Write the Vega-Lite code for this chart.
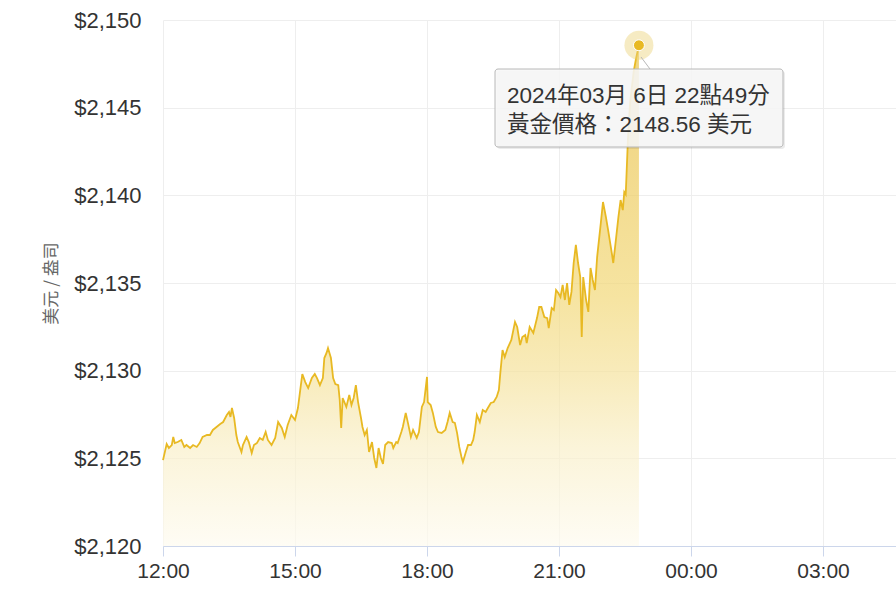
{
  "$schema": "https://vega.github.io/schema/vega-lite/v6.json",
  "width": 733,
  "height": 526,
  "autosize": {"type": "none"},
  "padding": {"left": 163, "top": 20, "right": 0, "bottom": 52},
  "background": "white",
  "config": {"view": {"stroke": null}, "font": "Liberation Sans, Noto Sans CJK TC"},
  "datasets": {
    "price": [
      {"t": "2024-03-06T12:00", "v": 2124.90},
      {"t": "2024-03-06T12:05", "v": 2125.82},
      {"t": "2024-03-06T12:08", "v": 2125.59},
      {"t": "2024-03-06T12:12", "v": 2125.76},
      {"t": "2024-03-06T12:14", "v": 2126.22},
      {"t": "2024-03-06T12:16", "v": 2125.87},
      {"t": "2024-03-06T12:20", "v": 2125.93},
      {"t": "2024-03-06T12:25", "v": 2126.05},
      {"t": "2024-03-06T12:29", "v": 2125.65},
      {"t": "2024-03-06T12:32", "v": 2125.76},
      {"t": "2024-03-06T12:37", "v": 2125.59},
      {"t": "2024-03-06T12:41", "v": 2125.76},
      {"t": "2024-03-06T12:46", "v": 2125.65},
      {"t": "2024-03-06T12:50", "v": 2125.87},
      {"t": "2024-03-06T12:54", "v": 2126.22},
      {"t": "2024-03-06T13:00", "v": 2126.33},
      {"t": "2024-03-06T13:04", "v": 2126.33},
      {"t": "2024-03-06T13:08", "v": 2126.62},
      {"t": "2024-03-06T13:13", "v": 2126.79},
      {"t": "2024-03-06T13:18", "v": 2126.96},
      {"t": "2024-03-06T13:22", "v": 2127.07},
      {"t": "2024-03-06T13:27", "v": 2127.47},
      {"t": "2024-03-06T13:30", "v": 2127.64},
      {"t": "2024-03-06T13:32", "v": 2127.36},
      {"t": "2024-03-06T13:34", "v": 2127.87},
      {"t": "2024-03-06T13:37", "v": 2127.30},
      {"t": "2024-03-06T13:40", "v": 2126.33},
      {"t": "2024-03-06T13:42", "v": 2125.93},
      {"t": "2024-03-06T13:47", "v": 2125.36},
      {"t": "2024-03-06T13:49", "v": 2125.76},
      {"t": "2024-03-06T13:54", "v": 2126.22},
      {"t": "2024-03-06T13:57", "v": 2125.93},
      {"t": "2024-03-06T14:01", "v": 2125.30},
      {"t": "2024-03-06T14:04", "v": 2125.76},
      {"t": "2024-03-06T14:08", "v": 2125.87},
      {"t": "2024-03-06T14:12", "v": 2126.16},
      {"t": "2024-03-06T14:16", "v": 2126.05},
      {"t": "2024-03-06T14:20", "v": 2126.50},
      {"t": "2024-03-06T14:23", "v": 2126.05},
      {"t": "2024-03-06T14:28", "v": 2125.76},
      {"t": "2024-03-06T14:33", "v": 2126.16},
      {"t": "2024-03-06T14:37", "v": 2127.07},
      {"t": "2024-03-06T14:42", "v": 2126.73},
      {"t": "2024-03-06T14:46", "v": 2126.22},
      {"t": "2024-03-06T14:50", "v": 2126.90},
      {"t": "2024-03-06T14:55", "v": 2127.47},
      {"t": "2024-03-06T15:00", "v": 2127.19},
      {"t": "2024-03-06T15:04", "v": 2127.87},
      {"t": "2024-03-06T15:08", "v": 2129.18},
      {"t": "2024-03-06T15:10", "v": 2129.81},
      {"t": "2024-03-06T15:14", "v": 2129.35},
      {"t": "2024-03-06T15:18", "v": 2129.01},
      {"t": "2024-03-06T15:23", "v": 2129.58},
      {"t": "2024-03-06T15:27", "v": 2129.81},
      {"t": "2024-03-06T15:30", "v": 2129.58},
      {"t": "2024-03-06T15:34", "v": 2129.18},
      {"t": "2024-03-06T15:38", "v": 2129.58},
      {"t": "2024-03-06T15:40", "v": 2130.72},
      {"t": "2024-03-06T15:43", "v": 2131.01},
      {"t": "2024-03-06T15:45", "v": 2131.29},
      {"t": "2024-03-06T15:49", "v": 2130.72},
      {"t": "2024-03-06T15:52", "v": 2129.58},
      {"t": "2024-03-06T15:55", "v": 2129.24},
      {"t": "2024-03-06T15:59", "v": 2129.18},
      {"t": "2024-03-06T16:01", "v": 2128.33},
      {"t": "2024-03-06T16:03", "v": 2126.73},
      {"t": "2024-03-06T16:05", "v": 2128.44},
      {"t": "2024-03-06T16:10", "v": 2127.93},
      {"t": "2024-03-06T16:14", "v": 2128.61},
      {"t": "2024-03-06T16:17", "v": 2128.04},
      {"t": "2024-03-06T16:20", "v": 2128.44},
      {"t": "2024-03-06T16:23", "v": 2129.18},
      {"t": "2024-03-06T16:26", "v": 2128.21},
      {"t": "2024-03-06T16:30", "v": 2127.30},
      {"t": "2024-03-06T16:32", "v": 2126.79},
      {"t": "2024-03-06T16:35", "v": 2126.33},
      {"t": "2024-03-06T16:38", "v": 2126.62},
      {"t": "2024-03-06T16:41", "v": 2125.36},
      {"t": "2024-03-06T16:45", "v": 2125.93},
      {"t": "2024-03-06T16:48", "v": 2125.02},
      {"t": "2024-03-06T16:51", "v": 2124.45},
      {"t": "2024-03-06T16:54", "v": 2125.59},
      {"t": "2024-03-06T16:57", "v": 2125.02},
      {"t": "2024-03-06T17:00", "v": 2124.68},
      {"t": "2024-03-06T17:03", "v": 2125.76},
      {"t": "2024-03-06T17:07", "v": 2125.93},
      {"t": "2024-03-06T17:12", "v": 2125.87},
      {"t": "2024-03-06T17:14", "v": 2125.59},
      {"t": "2024-03-06T17:18", "v": 2125.93},
      {"t": "2024-03-06T17:20", "v": 2125.87},
      {"t": "2024-03-06T17:25", "v": 2126.50},
      {"t": "2024-03-06T17:27", "v": 2126.79},
      {"t": "2024-03-06T17:31", "v": 2127.59},
      {"t": "2024-03-06T17:34", "v": 2127.02},
      {"t": "2024-03-06T17:38", "v": 2126.22},
      {"t": "2024-03-06T17:41", "v": 2126.62},
      {"t": "2024-03-06T17:46", "v": 2126.16},
      {"t": "2024-03-06T17:49", "v": 2126.50},
      {"t": "2024-03-06T17:53", "v": 2127.93},
      {"t": "2024-03-06T17:56", "v": 2128.21},
      {"t": "2024-03-06T18:00", "v": 2129.64},
      {"t": "2024-03-06T18:01", "v": 2128.21},
      {"t": "2024-03-06T18:05", "v": 2128.04},
      {"t": "2024-03-06T18:08", "v": 2127.59},
      {"t": "2024-03-06T18:12", "v": 2126.79},
      {"t": "2024-03-06T18:15", "v": 2126.50},
      {"t": "2024-03-06T18:20", "v": 2126.45},
      {"t": "2024-03-06T18:25", "v": 2126.62},
      {"t": "2024-03-06T18:28", "v": 2127.07},
      {"t": "2024-03-06T18:31", "v": 2127.59},
      {"t": "2024-03-06T18:35", "v": 2127.07},
      {"t": "2024-03-06T18:38", "v": 2127.02},
      {"t": "2024-03-06T18:41", "v": 2126.45},
      {"t": "2024-03-06T18:44", "v": 2125.65},
      {"t": "2024-03-06T18:47", "v": 2125.08},
      {"t": "2024-03-06T18:49", "v": 2124.79},
      {"t": "2024-03-06T18:53", "v": 2125.36},
      {"t": "2024-03-06T18:56", "v": 2125.76},
      {"t": "2024-03-06T19:00", "v": 2125.76},
      {"t": "2024-03-06T19:03", "v": 2126.05},
      {"t": "2024-03-06T19:05", "v": 2126.50},
      {"t": "2024-03-06T19:08", "v": 2127.47},
      {"t": "2024-03-06T19:12", "v": 2127.07},
      {"t": "2024-03-06T19:16", "v": 2127.76},
      {"t": "2024-03-06T19:20", "v": 2127.64},
      {"t": "2024-03-06T19:23", "v": 2127.87},
      {"t": "2024-03-06T19:27", "v": 2128.16},
      {"t": "2024-03-06T19:31", "v": 2128.21},
      {"t": "2024-03-06T19:35", "v": 2128.50},
      {"t": "2024-03-06T19:38", "v": 2128.90},
      {"t": "2024-03-06T19:40", "v": 2129.87},
      {"t": "2024-03-06T19:43", "v": 2131.18},
      {"t": "2024-03-06T19:46", "v": 2130.78},
      {"t": "2024-03-06T19:50", "v": 2131.29},
      {"t": "2024-03-06T19:55", "v": 2131.75},
      {"t": "2024-03-06T20:00", "v": 2132.78},
      {"t": "2024-03-06T20:03", "v": 2132.49},
      {"t": "2024-03-06T20:07", "v": 2131.46},
      {"t": "2024-03-06T20:10", "v": 2131.92},
      {"t": "2024-03-06T20:14", "v": 2132.03},
      {"t": "2024-03-06T20:16", "v": 2131.58},
      {"t": "2024-03-06T20:20", "v": 2132.49},
      {"t": "2024-03-06T20:25", "v": 2132.15},
      {"t": "2024-03-06T20:30", "v": 2133.00},
      {"t": "2024-03-06T20:33", "v": 2133.63},
      {"t": "2024-03-06T20:36", "v": 2133.63},
      {"t": "2024-03-06T20:40", "v": 2133.06},
      {"t": "2024-03-06T20:44", "v": 2133.00},
      {"t": "2024-03-06T20:46", "v": 2132.43},
      {"t": "2024-03-06T20:50", "v": 2133.57},
      {"t": "2024-03-06T20:53", "v": 2133.46},
      {"t": "2024-03-06T20:56", "v": 2134.60},
      {"t": "2024-03-06T20:59", "v": 2134.43},
      {"t": "2024-03-06T21:02", "v": 2134.20},
      {"t": "2024-03-06T21:05", "v": 2134.89},
      {"t": "2024-03-06T21:08", "v": 2134.03},
      {"t": "2024-03-06T21:11", "v": 2135.00},
      {"t": "2024-03-06T21:14", "v": 2133.75},
      {"t": "2024-03-06T21:17", "v": 2134.49},
      {"t": "2024-03-06T21:20", "v": 2136.14},
      {"t": "2024-03-06T21:23", "v": 2137.17},
      {"t": "2024-03-06T21:26", "v": 2136.14},
      {"t": "2024-03-06T21:29", "v": 2135.34},
      {"t": "2024-03-06T21:31", "v": 2131.92},
      {"t": "2024-03-06T21:33", "v": 2135.34},
      {"t": "2024-03-06T21:37", "v": 2134.03},
      {"t": "2024-03-06T21:40", "v": 2133.35},
      {"t": "2024-03-06T21:43", "v": 2135.86},
      {"t": "2024-03-06T21:46", "v": 2135.17},
      {"t": "2024-03-06T21:49", "v": 2134.60},
      {"t": "2024-03-06T21:52", "v": 2136.48},
      {"t": "2024-03-06T21:57", "v": 2138.42},
      {"t": "2024-03-06T22:00", "v": 2139.62},
      {"t": "2024-03-06T22:04", "v": 2138.76},
      {"t": "2024-03-06T22:07", "v": 2138.02},
      {"t": "2024-03-06T22:12", "v": 2136.71},
      {"t": "2024-03-06T22:14", "v": 2136.14},
      {"t": "2024-03-06T22:18", "v": 2137.62},
      {"t": "2024-03-06T22:21", "v": 2138.76},
      {"t": "2024-03-06T22:24", "v": 2139.73},
      {"t": "2024-03-06T22:27", "v": 2139.16},
      {"t": "2024-03-06T22:29", "v": 2140.19},
      {"t": "2024-03-06T22:31", "v": 2140.05},
      {"t": "2024-03-06T22:34", "v": 2143.20},
      {"t": "2024-03-06T22:37", "v": 2145.30},
      {"t": "2024-03-06T22:40", "v": 2146.40},
      {"t": "2024-03-06T22:42", "v": 2147.10},
      {"t": "2024-03-06T22:45", "v": 2147.80},
      {"t": "2024-03-06T22:49", "v": 2148.56}
    ],
    "last": [{"t": "2024-03-06T22:49", "v": 2148.56}],
    "tipbox": [{"x1": "2024-03-06T19:32:44", "x2": "2024-03-07T02:05:27", "y1": 2147.205, "y2": 2142.757}],
    "tipshadow": [{"x1": "2024-03-06T19:35:29", "x2": "2024-03-07T02:08:11", "y1": 2147.09, "y2": 2142.64}],
    "tippointer": [{"x1": "2024-03-06T22:51:49", "x2": "2024-03-06T23:04:05", "y1": 2147.89, "y2": 2147.205}],
    "tiptext": [
      {"t": "2024-03-06T19:49:05", "v": 2145.27, "label": "2024年03月 6日 22點49分"},
      {"t": "2024-03-06T19:49:05", "v": 2143.63, "label": "黃金價格：2148.56 美元"}
    ]
  },
  "layer": [
    {
      "data": {"name": "price"},
      "mark": {
        "type": "area",
        "interpolate": "linear",
        "color": {
          "gradient": "linear", "x1": 0, "y1": 0, "x2": 0, "y2": 1,
          "stops": [
            {"offset": 0, "color": "#e9c44a"},
            {"offset": 0.2, "color": "#ecc857"},
            {"offset": 0.5, "color": "#f2d878"},
            {"offset": 0.65, "color": "#f5e29c"},
            {"offset": 0.8, "color": "#f9efc8"},
            {"offset": 1, "color": "#fefbf0"}
          ]
        },
        "line": {"color": "#e8b923", "strokeWidth": 1.8}
      },
      "encoding": {
        "x": {
          "field": "t", "type": "temporal",
          "scale": {"domain": [
            {"year": 2024, "month": 3, "date": 6, "hours": 12},
            {"year": 2024, "month": 3, "date": 7, "hours": 4, "minutes": 39, "seconds": 33}
          ]},
          "axis": {
            "title": null,
            "format": "%H:%M",
            "values": [
              {"year": 2024, "month": 3, "date": 6, "hours": 12},
              {"year": 2024, "month": 3, "date": 6, "hours": 15},
              {"year": 2024, "month": 3, "date": 6, "hours": 18},
              {"year": 2024, "month": 3, "date": 6, "hours": 21},
              {"year": 2024, "month": 3, "date": 7, "hours": 0},
              {"year": 2024, "month": 3, "date": 7, "hours": 3}
            ],
            "grid": true, "gridColor": "#eeeeee", "gridWidth": 1,
            "domainColor": "#ccd6eb", "tickColor": "#ccd6eb", "tickSize": 10,
            "labelFontSize": 21, "labelColor": "#333333", "labelPadding": 4,
            "labelFont": "Liberation Sans", "labelOverlap": false, "labelFlush": false
          }
        },
        "y": {
          "field": "v", "type": "quantitative",
          "scale": {"domain": [2120, 2150], "nice": false, "zero": false},
          "axis": {
            "title": "美元 / 盎司",
            "values": [2120, 2125, 2130, 2135, 2140, 2145, 2150],
            "format": "$,d",
            "grid": true, "gridColor": "#eeeeee", "gridWidth": 1,
            "domain": false, "ticks": false,
            "labelFontSize": 22, "labelColor": "#333333", "labelPadding": 22,
            "labelFont": "Liberation Sans",
            "titleFontSize": 17, "titleColor": "#666666", "titleFontWeight": "normal",
            "titleFont": "Noto Sans CJK TC", "titlePadding": 13
          }
        },
        "y2": {"datum": 2120}
      }
    },
    {
      "data": {"name": "last"},
      "mark": {"type": "point", "shape": "circle", "filled": true, "size": 840, "color": "#ecd27a", "opacity": 0.45},
      "encoding": {"x": {"field": "t", "type": "temporal"}, "y": {"field": "v", "type": "quantitative"}}
    },
    {
      "data": {"name": "tipshadow"},
      "mark": {"type": "rect", "fill": "#000000", "fillOpacity": 0.08, "cornerRadius": 3},
      "encoding": {
        "x": {"field": "x1", "type": "temporal"}, "x2": {"field": "x2"},
        "y": {"field": "y1", "type": "quantitative"}, "y2": {"field": "y2"}
      }
    },
    {
      "data": {"name": "tipbox"},
      "mark": {"type": "rect", "fill": "#f7f7f7", "fillOpacity": 0.88, "stroke": "#b8b8b8", "strokeWidth": 1, "cornerRadius": 3},
      "encoding": {
        "x": {"field": "x1", "type": "temporal"}, "x2": {"field": "x2"},
        "y": {"field": "y1", "type": "quantitative"}, "y2": {"field": "y2"}
      }
    },
    {
      "data": {"name": "tippointer"},
      "mark": {"type": "rule", "color": "#b8b8b8", "strokeWidth": 1},
      "encoding": {
        "x": {"field": "x1", "type": "temporal"}, "x2": {"field": "x2"},
        "y": {"field": "y1", "type": "quantitative"}, "y2": {"field": "y2"}
      }
    },
    {
      "data": {"name": "last"},
      "mark": {"type": "point", "shape": "circle", "filled": true, "size": 120, "color": "#e8b923", "stroke": "#ffffff", "strokeWidth": 1, "opacity": 1},
      "encoding": {"x": {"field": "t", "type": "temporal"}, "y": {"field": "v", "type": "quantitative"}}
    },
    {
      "data": {"name": "tiptext"},
      "mark": {"type": "text", "align": "left", "baseline": "alphabetic", "fontSize": 22.5, "color": "#333333", "font": "Liberation Sans, Noto Sans CJK TC"},
      "encoding": {
        "x": {"field": "t", "type": "temporal"},
        "y": {"field": "v", "type": "quantitative"},
        "text": {"field": "label"}
      }
    }
  ]
}
